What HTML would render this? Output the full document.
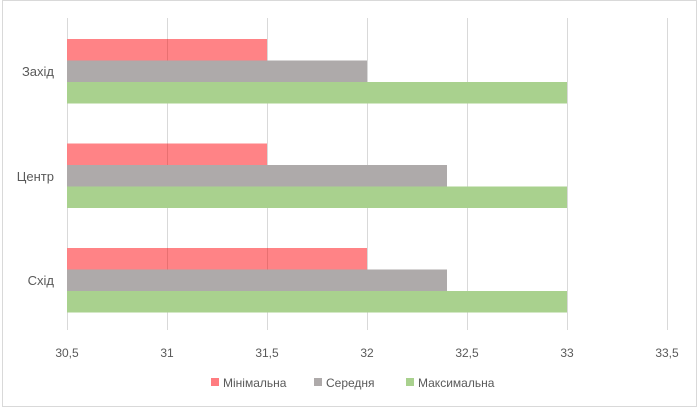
<!DOCTYPE html>
<html><head><meta charset="utf-8"><style>
body{margin:0;background:#fff}
svg{display:block;font-family:"Liberation Sans","DejaVu Sans",sans-serif}
</style></head><body>
<svg width="698" height="408" viewBox="0 0 698 408">
<rect x="2.5" y="0.5" width="694" height="406" fill="#fff" stroke="#d9d9d9"/>
<g stroke="#d9d9d9" stroke-width="1">
<line x1="67.5" y1="18" x2="67.5" y2="330"/>
<line x1="167.5" y1="18" x2="167.5" y2="330"/>
<line x1="267.5" y1="18" x2="267.5" y2="330"/>
<line x1="367.5" y1="18" x2="367.5" y2="330"/>
<line x1="467.5" y1="18" x2="467.5" y2="330"/>
<line x1="567.5" y1="18" x2="567.5" y2="330"/>
<line x1="667.5" y1="18" x2="667.5" y2="330"/>
</g>
<g>
<rect x="67" y="39" width="200" height="21.5" fill="#ff7c80" fill-opacity="0.95"/>
<rect x="67" y="60.5" width="300" height="21.5" fill="#aeaaaa"/>
<rect x="67" y="82" width="500" height="21.5" fill="#a9d18e"/>
<rect x="67" y="143.5" width="200" height="21.5" fill="#ff7c80" fill-opacity="0.95"/>
<rect x="67" y="165" width="380" height="21.5" fill="#aeaaaa"/>
<rect x="67" y="186.5" width="500" height="21.5" fill="#a9d18e"/>
<rect x="67" y="248" width="300" height="21.5" fill="#ff7c80" fill-opacity="0.95"/>
<rect x="67" y="269.5" width="380" height="21.5" fill="#aeaaaa"/>
<rect x="67" y="291" width="500" height="21.5" fill="#a9d18e"/>
</g>
<g stroke="#c0504d" stroke-opacity="0.35"><line x1="167.5" y1="39" x2="167.5" y2="60.5"/><line x1="167.5" y1="143.5" x2="167.5" y2="165"/><line x1="167.5" y1="248" x2="167.5" y2="269.5"/><line x1="267.5" y1="248" x2="267.5" y2="269.5"/></g>
<g fill="#595959" font-size="13" text-anchor="end">
<text x="54" y="76">Захід</text>
<text x="54" y="181">Центр</text>
<text x="54" y="285">Схід</text>
</g>
<g fill="#595959" font-size="12" text-anchor="middle">
<text x="67" y="357">30,5</text>
<text x="167" y="357">31</text>
<text x="267" y="357">31,5</text>
<text x="367" y="357">32</text>
<text x="467" y="357">32,5</text>
<text x="567" y="357">33</text>
<text x="667" y="357">33,5</text>
</g>
<g fill="#595959" font-size="12">
<rect x="211" y="378" width="8" height="8" fill="#ff7c80"/><text x="223" y="387">Мінімальна</text>
<rect x="314" y="378" width="8" height="8" fill="#aeaaaa"/><text x="326" y="387">Середня</text>
<rect x="406" y="378" width="8" height="8" fill="#a9d18e"/><text x="418" y="387">Максимальна</text>
</g>
</svg>
</body></html>
